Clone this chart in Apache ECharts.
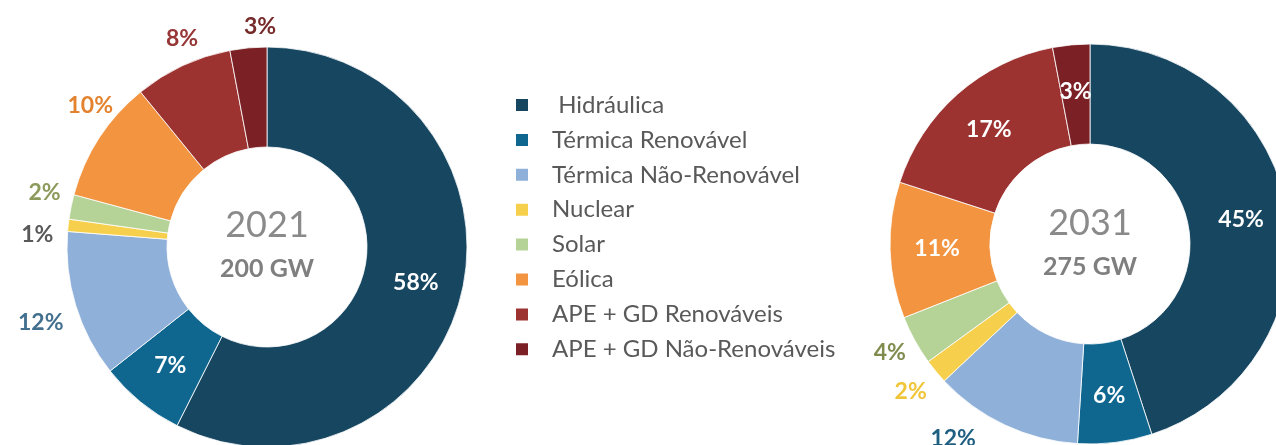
<!DOCTYPE html>
<html>
<head>
<meta charset="utf-8">
<script src="https://cdn.jsdelivr.net/npm/echarts@6/dist/echarts.min.js"></script>
<style>
  html, body { margin: 0; padding: 0; background: #ffffff; }
  #chart { width: 1276px; height: 445px; }
</style>
</head>
<body>
<div id="chart"></div>
<script>
// ---- data ----
const categories = [
  'Hidráulica',
  'Térmica Renovável',
  'Térmica Não-Renovável',
  'Nuclear',
  'Solar',
  'Eólica',
  'APE + GD Renováveis',
  'APE + GD Não-Renováveis'
];
const values2021 = [58, 7, 12, 1, 2, 10, 8, 3];
const values2031 = [45, 6, 12, 2, 4, 11, 17, 3];
const year2021 = '2021';
const total2021 = '200 GW';
const year2031 = '2031';
const total2031 = '275 GW';

// ---- styles ----
const sliceColors = ['#174660', '#0f6790', '#8fb0d9', '#f6d04d', '#b5d397', '#f29440', '#9c3331', '#7b2024'];
// label placement per item: 'in' = on the ring, 'out' = outside the ring
const place2021 = ['in', 'in', 'out', 'out', 'out', 'out', 'out', 'out'];
const place2031 = ['in', 'in', 'out', 'out', 'out', 'in', 'in', 'in'];
const outColors2021 = [null, null, '#44708f', '#595959', '#8c9a5b', '#e4832f', '#963636', '#772a2a'];
const outColors2031 = [null, null, '#1f5f82', '#f0c537', '#7f8c4e', null, null, null];
// small nudges of the outside labels (as in the original, where they were spread apart)
const outOffsets2021 = [null, null, [-11, 10], [-6, 12], [-2, -9], [12, -19], [10, -4], [14, 4]];
const outOffsets2031 = [null, null, [-41, -9], [-6, 4], [-3, 0], null, null, null];

const FONT = 'Lato, "Open Sans", sans-serif';
const labelBase = { fontFamily: FONT, fontSize: 23, fontWeight: 'bold' };

function ringData(vals, place) {
  return categories.map((name, i) => ({
    name: name,
    value: vals[i],
    itemStyle: { color: sliceColors[i] },
    label: place[i] === 'in'
      ? Object.assign({ show: true, position: 'inside', color: '#ffffff', formatter: '{c}%' }, labelBase)
      : { show: false }
  }));
}
function outerData(vals, place, colors, offsets) {
  return categories.map((name, i) => {
    const lab = place[i] === 'out'
      ? Object.assign({ show: true, position: 'inside', color: colors[i], formatter: '{c}%', lineHeight: 10 }, labelBase)
      : { show: false };
    if (offsets && offsets[i]) lab.offset = offsets[i];
    return { name: name, value: vals[i], itemStyle: { color: 'rgba(0,0,0,0)' }, label: lab };
  });
}

const c1 = [267, 247];
const c2 = [1090, 244];

const chart = echarts.init(document.getElementById('chart'), null, { renderer: 'canvas' });
const ringCommon = {
  type: 'pie',
  radius: [100, 200],
  startAngle: 90,
  clockwise: true,
  avoidLabelOverlap: false,
  labelLine: { show: false },
  emphasis: { disabled: true },
  itemStyle: { borderColor: '#ffffff', borderWidth: 0.8 },
  animation: false
};
const outerCommon = {
  type: 'pie',
  radius: [210, 234],
  startAngle: 90,
  clockwise: true,
  avoidLabelOverlap: false,
  minShowLabelAngle: 0,
  labelLayout: { hideOverlap: false },
  silent: true,
  labelLine: { show: false },
  emphasis: { disabled: true },
  tooltip: { show: false },
  animation: false
};

chart.setOption({
  backgroundColor: '#ffffff',
  animation: false,
  legend: {
    orient: 'vertical',
    left: 509,
    top: 88,
    icon: 'rect',
    itemWidth: 14,
    itemHeight: 14,
    itemGap: 10.9,
    selectedMode: false,
    data: categories.map((n, i) => ({ name: n, itemStyle: { color: sliceColors[i] } })),
    formatter: function (name) { return name === 'Hidráulica' ? ' ' + name : name; },
    textStyle: {
      fontFamily: FONT,
      fontSize: 24,
      color: '#595959',
      lineHeight: 24,
      padding: [0, 0, 0, 18]
    }
  },
  graphic: [
    { type: 'text', x: c1[0], y: 225, style: { text: year2021, font: '36px ' + FONT, fill: '#8a8a8a', align: 'center', verticalAlign: 'middle' } },
    { type: 'text', x: c1[0], y: 269, style: { text: total2021, font: 'bold 25px ' + FONT, fill: '#7f7f7f', align: 'center', verticalAlign: 'middle' } },
    { type: 'text', x: c2[0], y: 223, style: { text: year2031, font: '36px ' + FONT, fill: '#8a8a8a', align: 'center', verticalAlign: 'middle' } },
    { type: 'text', x: c2[0], y: 267, style: { text: total2031, font: 'bold 25px ' + FONT, fill: '#7f7f7f', align: 'center', verticalAlign: 'middle' } }
  ],
  series: [
    Object.assign({}, ringCommon, { name: year2021, center: c1, data: ringData(values2021, place2021) }),
    Object.assign({}, outerCommon, { name: year2021 + '-labels', center: c1, data: outerData(values2021, place2021, outColors2021, outOffsets2021) }),
    Object.assign({}, ringCommon, { name: year2031, center: c2, data: ringData(values2031, place2031) }),
    Object.assign({}, outerCommon, { name: year2031 + '-labels', center: c2, data: outerData(values2031, place2031, outColors2031, outOffsets2031) })
  ]
});
</script>
</body>
</html>
